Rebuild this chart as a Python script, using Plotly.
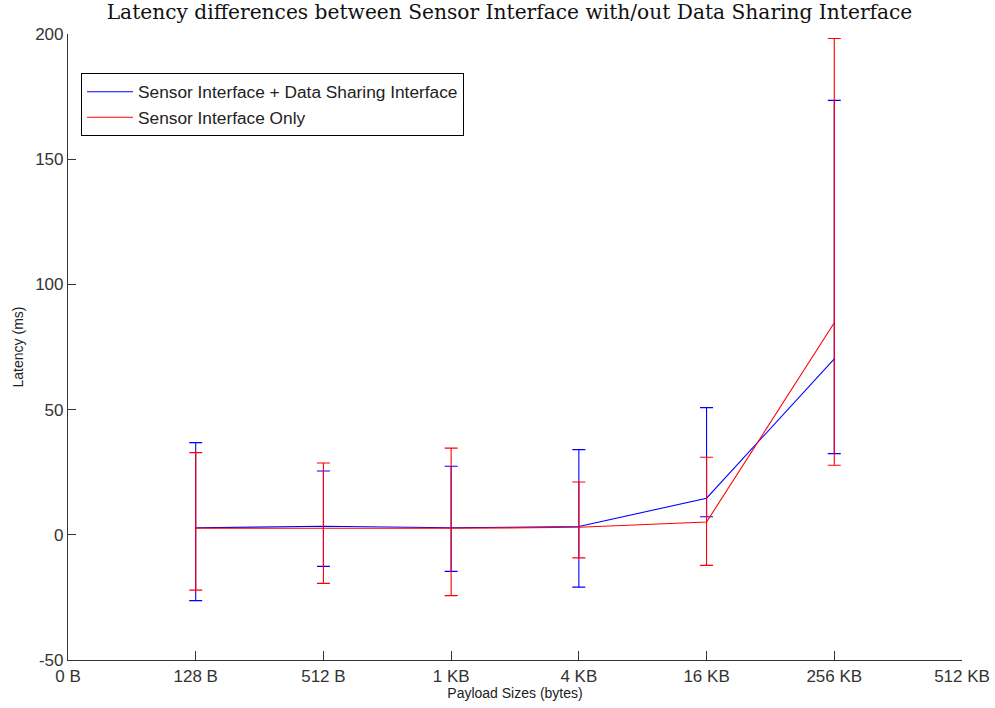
import plotly.graph_objects as go

categories = ["0 B", "128 B", "512 B", "1 KB", "4 KB", "16 KB", "256 KB", "512 KB"]
positions = [1, 2, 3, 4, 5, 6]

# Sensor Interface + Data Sharing Interface
blue_mean = [2.8, 3.4, 2.8, 3.3, 14.6, 70.3]
blue_upper = [36.8, 25.5, 27.4, 34.0, 50.8, 173.5]
blue_lower = [-26.3, -12.6, -14.6, -20.9, 7.2, 32.4]

# Sensor Interface Only
red_mean = [2.6, 2.6, 2.6, 3.0, 5.1, 84.7]
red_upper = [32.8, 28.7, 34.6, 21.1, 31.0, 198.2]
red_lower = [-22.1, -19.4, -24.3, -9.2, -12.2, 27.8]

y_ticks = [-50, 0, 50, 100, 150, 200]
y_tick_labels = ["-50", "0", "50", "100", "150", "200"]


def err(mean, upper, lower, color):
    return dict(
        type="data",
        symmetric=False,
        array=[u - m for u, m in zip(upper, mean)],
        arrayminus=[m - l for m, l in zip(mean, lower)],
        color=color,
        thickness=1.1,
        width=6.5,
    )


fig = go.Figure()
fig.add_trace(go.Scatter(
    x=positions, y=blue_mean, mode="lines",
    name="Sensor Interface + Data Sharing Interface",
    line=dict(color="#0000ff", width=1.1),
    error_y=err(blue_mean, blue_upper, blue_lower, "#0000ff"),
))
fig.add_trace(go.Scatter(
    x=positions, y=red_mean, mode="lines",
    name="Sensor Interface Only",
    line=dict(color="#ff0000", width=1.1),
    error_y=err(red_mean, red_upper, red_lower, "#ff0000"),
))

fig.update_layout(
    width=995, height=708,
    margin=dict(l=68, r=33, t=34, b=48),
    paper_bgcolor="white", plot_bgcolor="white",
    title=dict(
        text="Latency differences between Sensor Interface with/out Data Sharing Interface",
        font=dict(family="DejaVu Serif", size=20.2, color="#111"),
        x=(509.5 - 68) / 894, xanchor="center", y=1 - 12 / 708, yanchor="middle",
        xref="paper", yref="container",
    ),
    showlegend=True,
    legend=dict(
        x=(81 - 68) / 894, y=(660 - 73) / 626, xanchor="left", yanchor="top",
        bordercolor="black", borderwidth=1, bgcolor="white",
        font=dict(family="Liberation Sans", size=17.3, color="#222"),
        tracegroupgap=0, itemwidth=46,
    ),
    font=dict(family="Liberation Sans", color="#333"),
)

fig.update_xaxes(
    range=[0, 7], tickmode="array", tickvals=list(range(8)), ticktext=categories,
    ticks="inside", ticklen=9, tickcolor="#333", tickwidth=1,
    showline=True, linecolor="#333", linewidth=1.2,
    showgrid=False, zeroline=False, automargin=False,
    tickfont=dict(family="Liberation Sans", size=17, color="#333"),
    title=dict(text="Payload Sizes (bytes)", standoff=2,
               font=dict(family="Liberation Sans", size=14, color="#222")),
)
fig.update_yaxes(
    range=[-50, 200], tickmode="array", tickvals=y_ticks, ticktext=y_tick_labels,
    ticks="inside", ticklen=8, tickcolor="#333", tickwidth=1,
    showline=True, linecolor="#333", linewidth=1.2,
    showgrid=False, zeroline=False, automargin=False,
    tickfont=dict(family="Liberation Sans", size=17, color="#333"),
    title=dict(text="Latency (ms)", standoff=8,
               font=dict(family="Liberation Sans", size=14, color="#222")),
)

fig.write_html("out.html", config={"displayModeBar": False},
               post_script="document.body.style.margin='0px';")
